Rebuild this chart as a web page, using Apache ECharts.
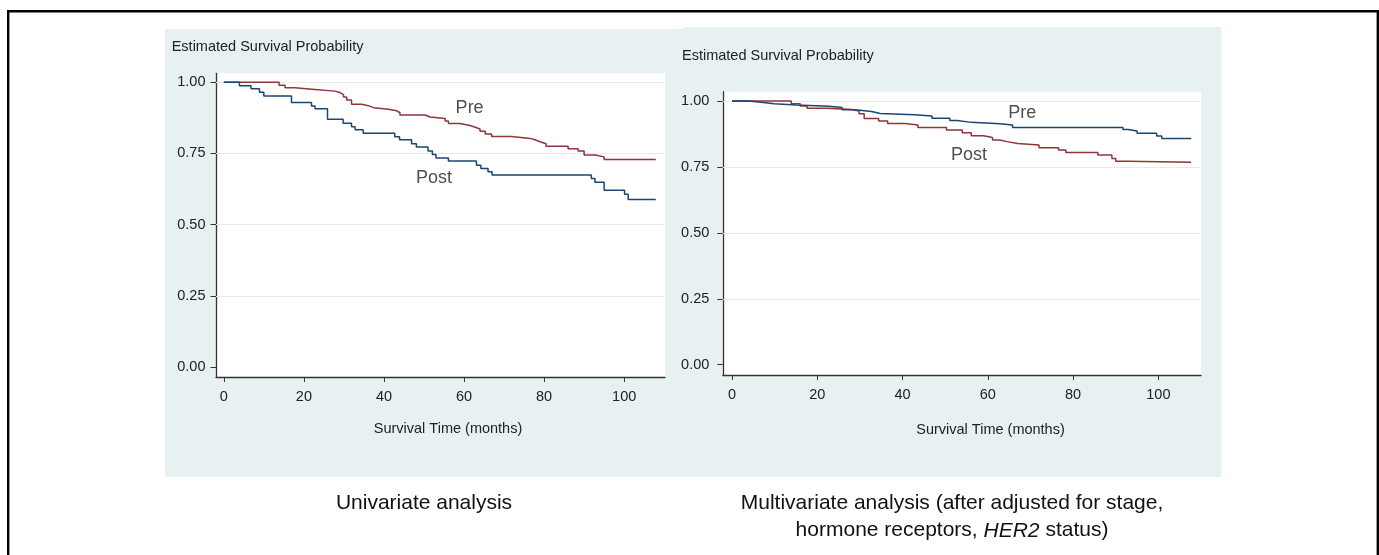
<!DOCTYPE html>
<html>
<head>
<meta charset="utf-8">
<title>Survival curves</title>
<script src="https://cdn.jsdelivr.net/npm/echarts@6/dist/echarts.min.js"></script>
<style>
  html, body { margin: 0; padding: 0; background: #fff; }
  #chart { width: 1379px; height: 555px; }
</style>
</head>
<body>
<div id="chart"></div>
<script>
// univariate panel: Kaplan-Meier steps (time in months, survival)
const uniPreT = [0, 13.8, 15.3, 17.8, 22, 27.8, 29, 29.9, 30.7, 31.9, 34.4, 36.1, 37.4, 41.1, 43.2, 44, 50.3, 51.5, 55.3, 56.1, 59, 61.5, 62.8, 64, 65.3, 66.9, 71.9, 76.5, 77.7, 79, 80.5, 86, 88.5, 90, 92.7, 95, 107.9]
const uniPreS = [1, 0.99, 0.981, 0.976, 0.969, 0.964, 0.957, 0.948, 0.938, 0.923, 0.918, 0.911, 0.905, 0.9, 0.893, 0.885, 0.878, 0.873, 0.864, 0.855, 0.848, 0.842, 0.836, 0.828, 0.818, 0.81, 0.803, 0.798, 0.791, 0.784, 0.775, 0.767, 0.759, 0.745, 0.738, 0.729, 0.729]
const uniPostT = [0, 3.9, 6.8, 8.9, 10, 16.9, 21.9, 22.8, 25.9, 29.8, 31.9, 32.8, 34.8, 42.7, 43.9, 46.9, 48.1, 51, 52.1, 53, 56.1, 63.1, 64.2, 66, 67, 91.8, 92.7, 95, 100.1, 101, 107.9]
const uniPostS = [1, 0.988, 0.977, 0.965, 0.952, 0.929, 0.917, 0.907, 0.87, 0.856, 0.844, 0.833, 0.821, 0.809, 0.798, 0.784, 0.773, 0.759, 0.746, 0.734, 0.724, 0.709, 0.697, 0.686, 0.674, 0.662, 0.649, 0.621, 0.607, 0.588, 0.588]

// multivariate panel
const multiPreT = [0, 3.8, 6.8, 9.9, 15.1, 22.7, 25.8, 28.9, 32.7, 34.8, 42.8, 46.9, 51.1, 52.8, 56.1, 62.8, 65.8, 91.7, 92.9, 95, 99.6, 100.8, 107.7]
const multiPreS = [1, 0.995, 0.99, 0.985, 0.98, 0.975, 0.967, 0.96, 0.953, 0.948, 0.943, 0.935, 0.926, 0.919, 0.914, 0.909, 0.9, 0.892, 0.886, 0.878, 0.867, 0.858, 0.858]
const multiPostT = [0, 13.9, 16, 17.6, 22.2, 28.1, 29.8, 31, 34.4, 36.5, 40.6, 43.6, 50.3, 54, 56.1, 59, 61.1, 62.8, 64.5, 67, 72, 76.6, 78.3, 85.8, 89.1, 90, 92.9, 107.7]
const multiPostS = [1, 0.99, 0.981, 0.973, 0.968, 0.962, 0.952, 0.934, 0.924, 0.915, 0.909, 0.9, 0.89, 0.88, 0.868, 0.862, 0.852, 0.846, 0.839, 0.833, 0.823, 0.814, 0.805, 0.795, 0.782, 0.772, 0.768, 0.768]

// axis ticks
const xTicks = [0, 20, 40, 60, 80, 100]
const yTicks = [0, 0.25, 0.5, 0.75, 1]
const gridLines = [0.25, 0.5, 0.75, 1]

// curve labels (placed in data units)
const curveNames = ['Pre', 'Post']
const uniLabelT = [61.4, 52.5]
const uniLabelS = [0.91, 0.664]
const multiLabelT = [68.1, 55.6]
const multiLabelS = [0.954, 0.795]

const FONT = '"Liberation Sans", Arial, sans-serif'
const TXT = '#222'
const NAVY = '#1a476f'
const MAROON = '#90353b'
const PANEL = '#e8f1f2'

function pairs (ts, ss) {
  return ts.map((t, i) => [t, ss[i]])
}

function xAxisOpt (idx, min, max) {
  return {
    type: 'value',
    gridIndex: idx,
    min: min,
    max: max,
    axisLine: { show: true, onZero: false, lineStyle: { color: '#333', width: 1.3 } },
    axisTick: { show: true, length: 5, customValues: xTicks, lineStyle: { color: '#333', width: 1 } },
    axisLabel: { customValues: xTicks, margin: 12, color: TXT, fontSize: 14.5, fontFamily: FONT },
    splitLine: { show: false }
  }
}

function yAxisOpt (idx, min, max, margin) {
  return {
    type: 'value',
    gridIndex: idx,
    min: min,
    max: max,
    axisLine: { show: true, onZero: false, lineStyle: { color: '#333', width: 1.3 } },
    axisTick: { show: true, length: 5.5, customValues: yTicks, lineStyle: { color: '#333', width: 1 } },
    axisLabel: {
      customValues: yTicks,
      margin: margin,
      color: TXT,
      fontSize: 14.5,
      fontFamily: FONT,
      formatter: v => v.toFixed(2)
    },
    splitLine: { show: false }
  }
}

function curve (idx, ts, ss, color, withGrid) {
  const s = {
    type: 'line',
    xAxisIndex: idx,
    yAxisIndex: idx,
    step: 'end',
    showSymbol: false,
    symbol: 'none',
    data: pairs(ts, ss),
    lineStyle: { color: color, width: 1.5 },
    itemStyle: { color: color },
    z: 3
  }
  if (withGrid) {
    s.markLine = {
      silent: true,
      symbol: 'none',
      animation: false,
      label: { show: false },
      lineStyle: { color: '#e9e9e9', width: 1, type: 'solid' },
      data: gridLines.map(v => ({ yAxis: v })),
      z: 1
    }
  }
  return s
}

function labels (idx, ts, ss) {
  return {
    type: 'scatter',
    xAxisIndex: idx,
    yAxisIndex: idx,
    symbolSize: 1,
    itemStyle: { color: 'rgba(0,0,0,0)' },
    data: ts.map((t, i) => ({ value: [t, ss[i]], name: curveNames[i] })),
    label: {
      show: true,
      position: 'inside',
      formatter: p => p.name,
      color: TXT,
      fontSize: 18,
      fontFamily: FONT
    },
    z: 4
  }
}

function text (x, y, str, size, align, extra) {
  return Object.assign({
    type: 'text',
    x: x,
    y: y,
    style: {
      text: str,
      fill: TXT,
      font: size + 'px ' + FONT,
      align: align,
      verticalAlign: 'middle'
    }
  }, extra || {})
}

const chart = echarts.init(document.getElementById('chart'), null, { renderer: 'canvas' })

chart.setOption({
  animation: false,
  backgroundColor: '#fff',
  grid: [
    { left: 216, top: 73.3, width: 449, height: 303.7, show: true, backgroundColor: '#fff', borderWidth: 0 },
    { left: 722.8, top: 91.7, width: 478.2, height: 283.3, show: true, backgroundColor: '#fff', borderWidth: 0 }
  ],
  xAxis: [
    xAxisOpt(0, -1.95, 110.2),
    xAxisOpt(1, -2.16, 110.0)
  ],
  yAxis: [
    yAxisOpt(0, -0.0351, 1.0316, 10.5),
    yAxisOpt(1, -0.039, 1.0353, 13.5)
  ],
  series: [
    curve(0, uniPreT, uniPreS, MAROON, true),
    curve(0, uniPostT, uniPostS, NAVY, false),
    labels(0, uniLabelT, uniLabelS),
    curve(1, multiPostT, multiPostS, MAROON, true),
    curve(1, multiPreT, multiPreS, NAVY, false),
    labels(1, multiLabelT, multiLabelS)
  ],
  graphic: [
    // panel backgrounds
    { type: 'rect', z: -10, shape: { x: 165, y: 29, width: 518, height: 448 }, style: { fill: PANEL } },
    { type: 'rect', z: -10, shape: { x: 683, y: 27, width: 538, height: 450 }, style: { fill: PANEL } },
    // outer frame
    { type: 'rect', z: 10, shape: { x: 8.2, y: 11.2, width: 1369.6, height: 560 }, style: { fill: null, stroke: '#000', lineWidth: 2.4 } },
    // axis titles
    text(171.7, 46.7, 'Estimated Survival Probability', 14.5, 'left'),
    text(682, 56, 'Estimated Survival Probability', 14.5, 'left'),
    text(448, 429.3, 'Survival Time (months)', 14.5, 'center'),
    text(990.5, 430, 'Survival Time (months)', 14.5, 'center'),
    // captions
    text(424, 503, 'Univariate analysis', 21, 'center', { style: { text: 'Univariate analysis', fill: '#111', font: '21px ' + FONT, align: 'center', verticalAlign: 'middle' } }),
    text(952, 503, '', 21, 'center', { style: { text: 'Multivariate analysis (after adjusted for stage,', fill: '#111', font: '21px ' + FONT, align: 'center', verticalAlign: 'middle' } }),
    {
      type: 'text',
      x: 952,
      y: 530.7,
      style: {
        text: '{n|hormone receptors, }{i|HER2}{n| status)}',
        align: 'center',
        verticalAlign: 'middle',
        rich: {
          n: { fill: '#111', fontSize: 21, fontFamily: FONT },
          i: { fill: '#111', fontSize: 21, fontFamily: FONT, fontStyle: 'italic' }
        }
      }
    }
  ]
})
</script>
</body>
</html>
